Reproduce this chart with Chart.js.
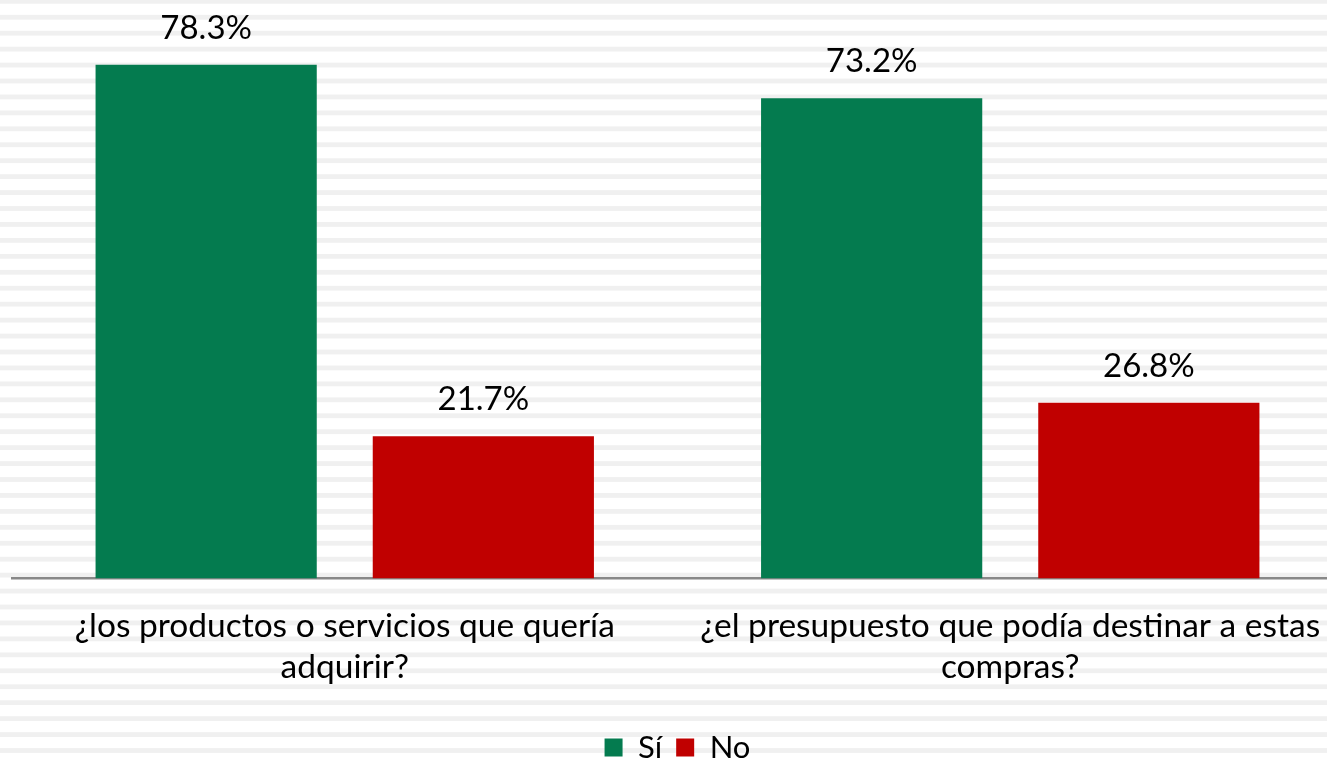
<!DOCTYPE html>
<html>
<head>
<meta charset="utf-8">
<script src="https://cdn.jsdelivr.net/npm/chart.js@4.4.1/dist/chart.umd.min.js"></script>
<style>
    html, body { margin: 0; padding: 0; background: #fff; overflow: hidden; }
    #wrap { position: absolute; left: 0; top: 0; width: 1345px; height: 773px; }
</style>
</head>
<body>
<div id="wrap"><canvas id="chart"></canvas></div>
<script>
    // Chart data
    const categories = [
        ['¿los productos o servicios que quería', 'adquirir?'],
        ['¿el presupuesto que podía destinar a estas', 'compras?']
    ];
    const seriesNames = ['Sí', 'No'];
    const siValues = [78.3, 73.2];
    const noValues = [21.7, 26.8];

    const FONT = 'Lato, "Open Sans", sans-serif';

    // Striped background like the original slide
    const stripesPlugin = {
        id: 'stripes',
        beforeDraw(chart) {
            const ctx = chart.ctx;
            ctx.save();
            ctx.fillStyle = '#ffffff';
            ctx.fillRect(0, 0, chart.width, chart.height);
            ctx.fillStyle = '#f0f0f0';
            for (let y = -1.1; y < chart.height; y += 15.94) {
                ctx.fillRect(0, y, chart.width, 4.8);
            }
            ctx.restore();
        }
    };

    // Value labels above bars
    const valueLabels = {
        id: 'valueLabels',
        afterDatasetsDraw(chart) {
            const ctx = chart.ctx;
            ctx.save();
            ctx.font = '33px ' + FONT;
            ctx.fillStyle = '#000';
            ctx.textAlign = 'center';
            ctx.textBaseline = 'alphabetic';
            chart.data.datasets.forEach((ds, i) => {
                chart.getDatasetMeta(i).data.forEach((bar, j) => {
                    ctx.fillText(ds.data[j].toFixed(1) + '%', bar.x, bar.y - 26);
                });
            });
            ctx.restore();
        }
    };

    new Chart(document.getElementById('chart'), {
        type: 'bar',
        data: {
            labels: categories,
            datasets: [
                {
                    label: seriesNames[0],
                    data: siValues,
                    backgroundColor: '#047b4f',
                    categoryPercentage: 0.833,
                    barPercentage: 0.798
                },
                {
                    label: seriesNames[1],
                    data: noValues,
                    backgroundColor: '#c00000',
                    categoryPercentage: 0.833,
                    barPercentage: 0.798
                }
            ]
        },
        options: {
            responsive: true,
            maintainAspectRatio: false,
            animation: false,
            layout: {
                padding: { left: 12, right: 2, top: 1, bottom: 0 }
            },
            plugins: {
                legend: {
                    position: 'bottom',
                    labels: {
                        boxWidth: 18,
                        boxHeight: 18,
                        padding: 14,
                        color: '#000',
                        font: { family: FONT, size: 31 }
                    }
                },
                tooltip: { enabled: false }
            },
            scales: {
                x: {
                    grid: { display: false },
                    border: { color: '#888888', width: 2.5 },
                    afterFit(scale) {
                        // leave room like the original between labels and legend
                        scale.height += 11;
                    },
                    ticks: {
                        color: '#000',
                        padding: 19,
                        maxRotation: 0,
                        autoSkip: false,
                        font: { family: FONT, size: 33.5, lineHeight: 1.23 }
                    }
                },
                y: {
                    display: false,
                    min: 0,
                    max: 88
                }
            }
        },
        plugins: [stripesPlugin, valueLabels]
    });
</script>
</body>
</html>
